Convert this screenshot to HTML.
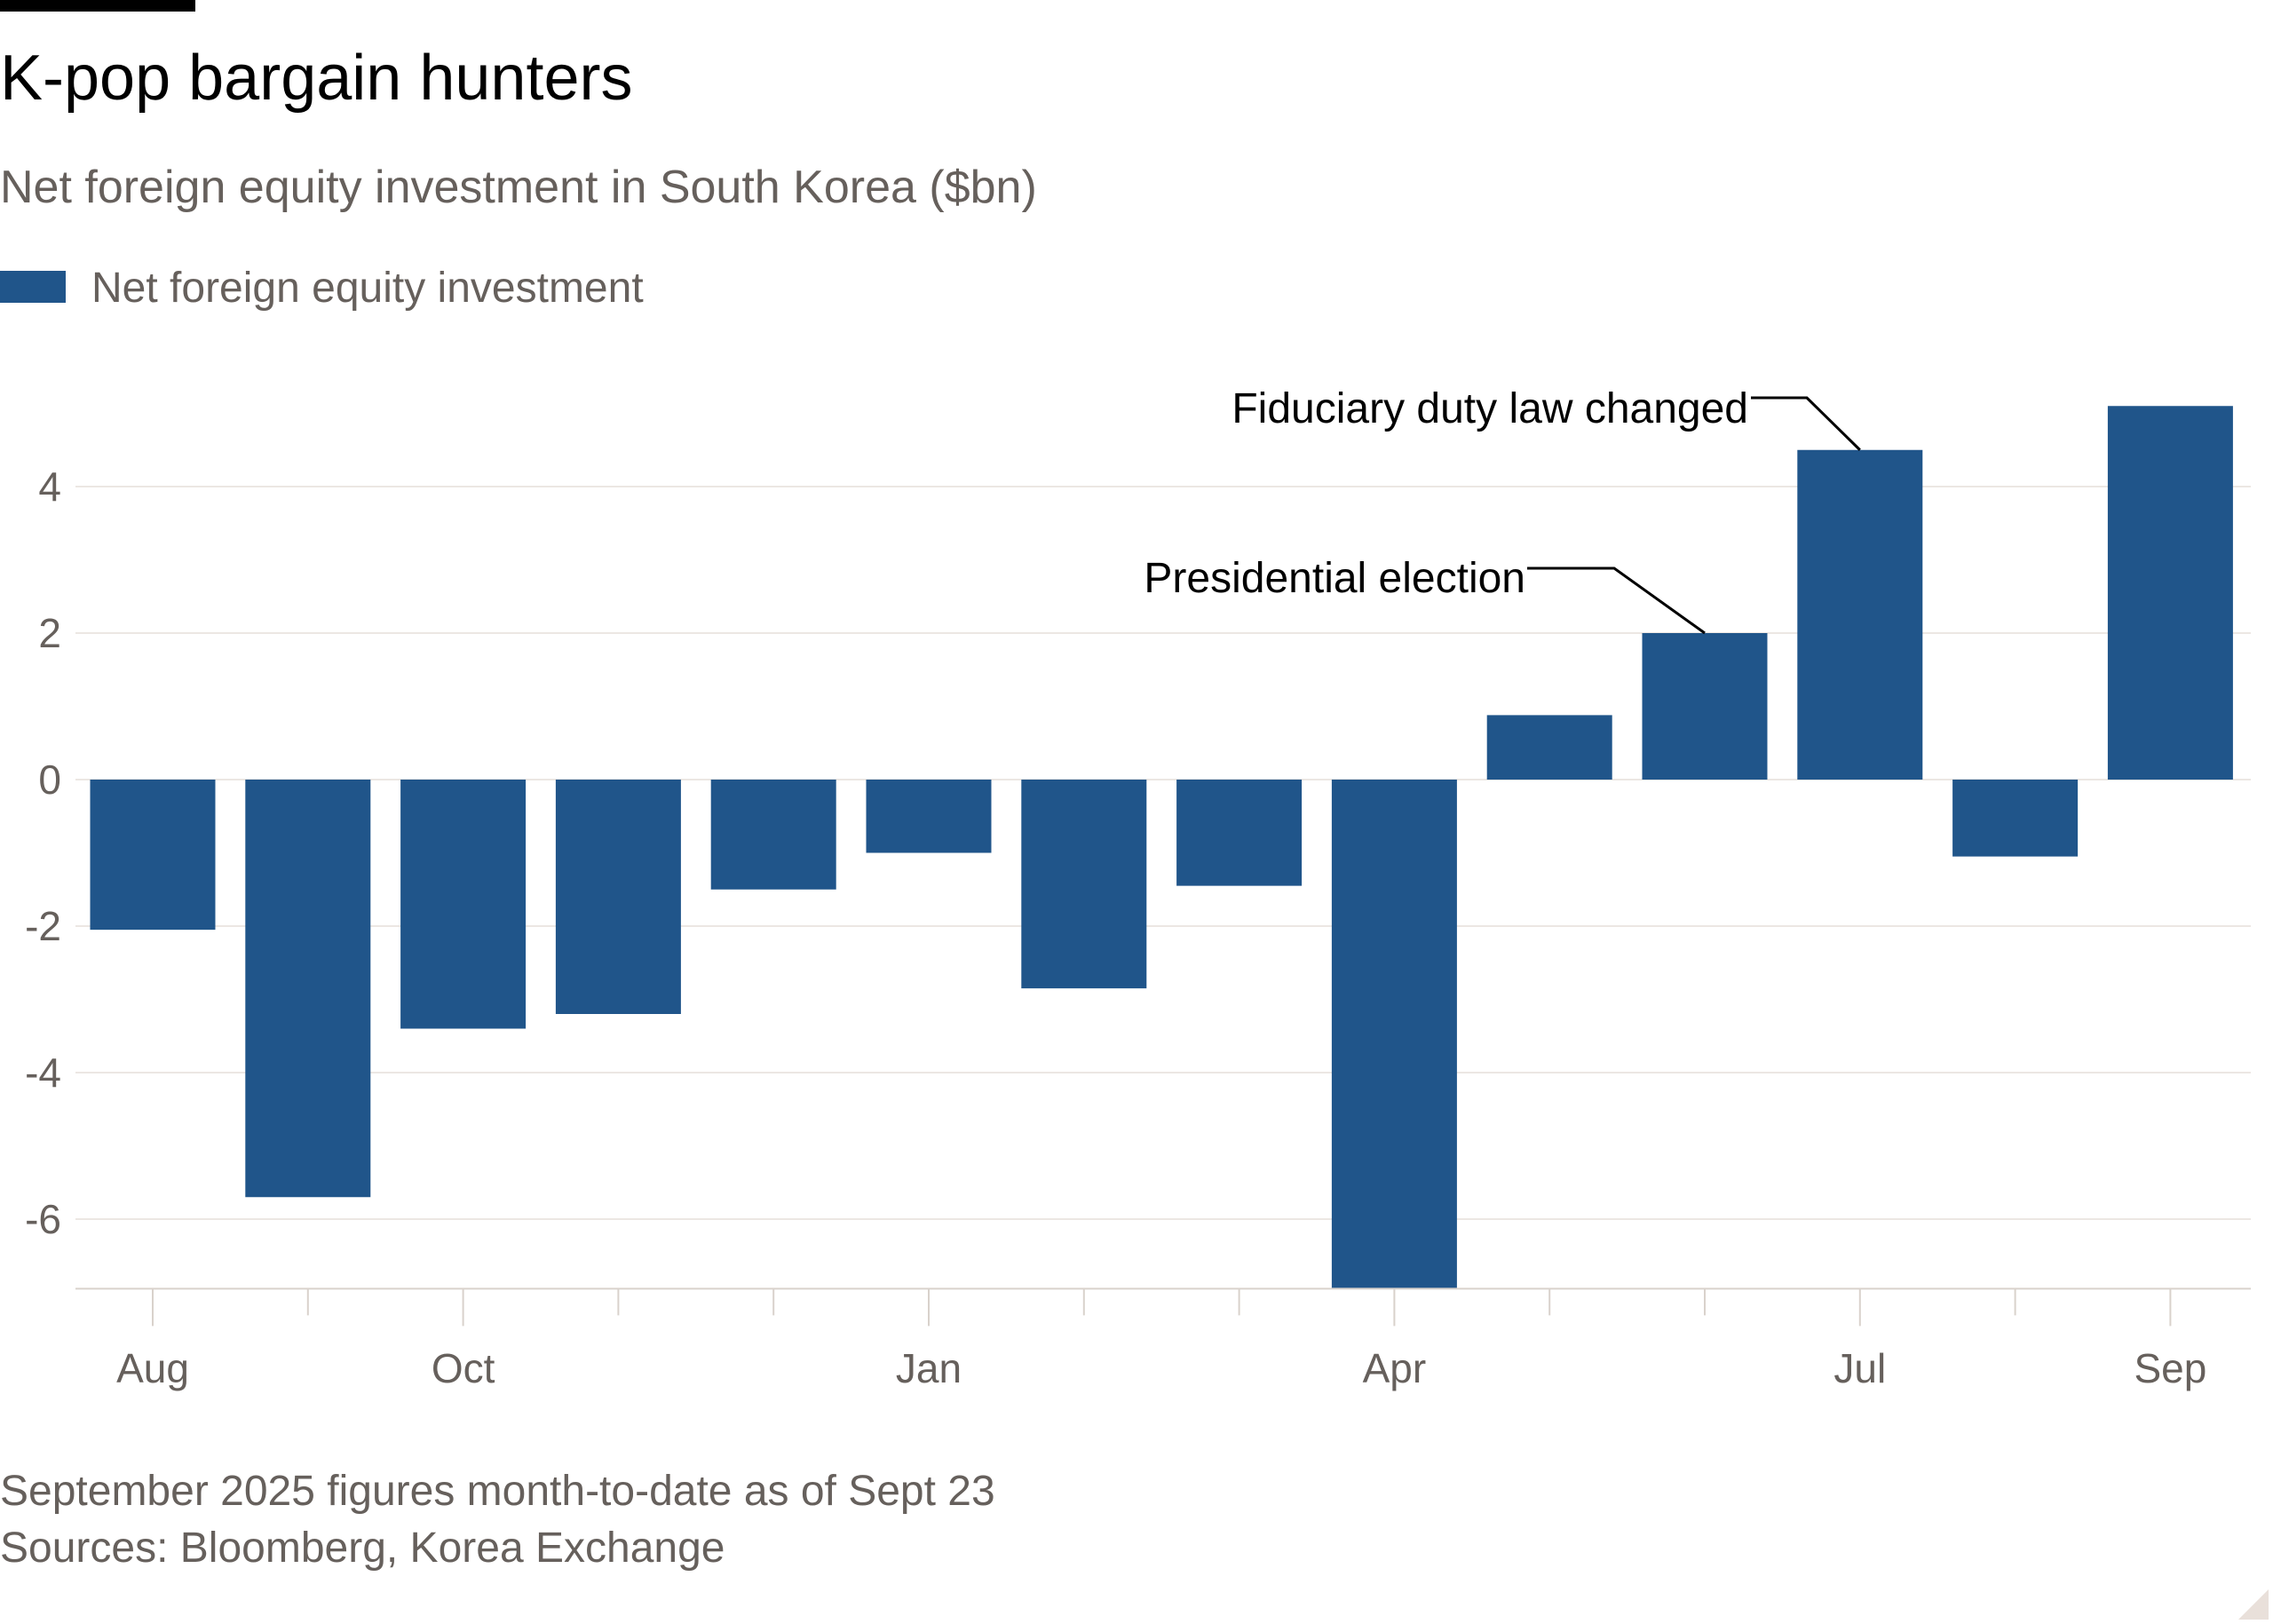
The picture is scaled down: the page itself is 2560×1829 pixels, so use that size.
<!DOCTYPE html>
<html><head><meta charset="utf-8">
<style>
html,body{margin:0;padding:0;background:#fff;}
svg{display:block;font-family:"Liberation Sans",sans-serif;}
</style></head>
<body>
<svg id="chart" width="2560" height="1829" viewBox="0 0 2560 1829" xmlns="http://www.w3.org/2000/svg">
<rect x="0" y="0" width="220" height="13" fill="#000"/>
<text x="0" y="112" font-size="72" fill="#000">K-pop bargain hunters</text>
<text x="0" y="228" font-size="52" fill="#66605c">Net foreign equity investment in South Korea ($bn)</text>
<rect x="0" y="305" width="74" height="36" fill="#20558a"/>
<text x="103" y="340" font-size="48" fill="#66605c">Net foreign equity investment</text>
<g id="grid"></g>
<g id="bars"></g>
<g id="xaxis"></g>
<g id="annot">
<text x="1969" y="476" font-size="48" fill="#000" text-anchor="end">Fiduciary duty law changed</text>
<text x="1718" y="667" font-size="48" fill="#000" text-anchor="end">Presidential election</text>
</g>
<text x="0" y="1695" font-size="48" fill="#66605c">September 2025 figures month-to-date as of Sept 23</text>
<text x="0" y="1759" font-size="48" fill="#66605c">Sources: Bloomberg, Korea Exchange</text>
<path d="M2555 1790 L2555 1824 L2521 1824 Z" fill="#e9e0da"/>
</svg>
<script>
const months = ["Aug","Sep","Oct","Nov","Dec","Jan","Feb","Mar","Apr","May","Jun","Jul","Aug","Sep"];
const values = [-2.05,-5.7,-3.4,-3.2,-1.5,-1.0,-2.85,-1.45,-6.95,0.88,2.0,4.5,-1.05,5.1];
const yTicks = [4,2,0,-2,-4,-6];
const xLabels = ["Aug","","Oct","","","Jan","","","Apr","","","Jul","","Sep"];
const NS="http://www.w3.org/2000/svg";
const y0=878, unit=82.5, left=85, right=2535, x0=172, step=174.8, bw=141, yMin=-6.95;
function y(v){return y0-v*unit;}
function x(i){return x0+i*step;}
function mk(t,a,p){const e=document.createElementNS(NS,t);for(const k in a)e.setAttribute(k,a[k]);p.appendChild(e);return e;}
const grid=document.getElementById('grid');
yTicks.forEach(v=>{
  const l=mk('line',{x1:left,x2:right,y1:y(v),y2:y(v),stroke:'#ece7e3','stroke-width':2},grid);
  
  
  const t=mk('text',{x:69,y:y(v)+16,'font-size':46,fill:'#66605c','text-anchor':'end'},grid);
  t.textContent=String(v).replace('-','-');
  
  
});
const bars=document.getElementById('bars');
values.forEach((v,i)=>{
  const top=Math.min(y(v),y(0)),h=Math.abs(y(v)-y(0));
  const r=mk('rect',{x:x(i)-bw/2,y:top,width:bw,height:h,fill:'#20558a'},bars);
  
  
});
const xa=document.getElementById('xaxis');
const bl=mk('line',{x1:left,x2:right,y1:y(yMin),y2:y(yMin),stroke:'#d9d2cc','stroke-width':2},xa);


months.forEach((m,i)=>{
  const lab=xLabels[i];
  const tk=mk('line',{x1:x(i),x2:x(i),y1:y(yMin),y2:y(yMin)+(lab?42:30),stroke:'#d9d2cc','stroke-width':2},xa);
  
  
  if(lab){
    const t=mk('text',{x:x(i),y:1557,'font-size':46,fill:'#66605c','text-anchor':'middle'},xa);
    t.textContent=lab;
    
    
  }
});
const an=document.getElementById('annot');
const l1=mk('polyline',{points:`1972,448 2035,448 ${x(11)},${y(values[11])}`,fill:'none',stroke:'#000','stroke-width':3},an);


const l2=mk('polyline',{points:`1720,640 1818,640 ${x(10)},${y(values[10])}`,fill:'none',stroke:'#000','stroke-width':3},an);


</script>
</body></html>
